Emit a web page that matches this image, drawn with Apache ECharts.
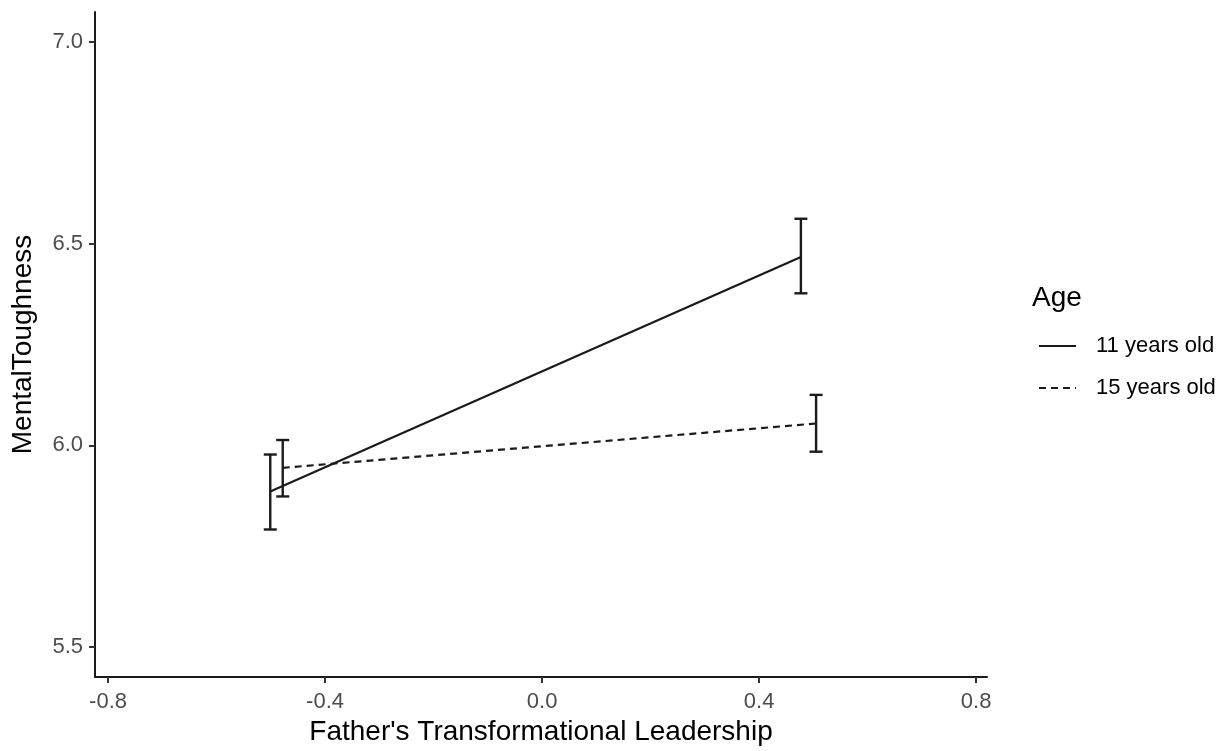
<!DOCTYPE html>
<html>
<head>
<meta charset="utf-8">
<script src="https://cdn.jsdelivr.net/npm/echarts@6/dist/echarts.min.js"></script>
<style>
html,body{margin:0;padding:0;background:#fff;}
#chart{width:1230px;height:751px;}
</style>
</head>
<body>
<div id="chart"></div>
<script>
// ---- data ----
const groups = ['11 years old', '15 years old'];
const x11 = [-0.501, 0.477];
const y11 = [5.885, 6.467];
const lo11 = [5.791, 6.377];
const hi11 = [5.977, 6.562];
const x15 = [-0.478, 0.505];
const y15 = [5.944, 6.054];
const lo15 = [5.873, 5.984];
const hi15 = [6.013, 6.125];
const xTicks = [-0.8, -0.4, 0.0, 0.4, 0.8];
const yTicks = [5.5, 6.0, 6.5, 7.0];
const xTitle = "Father's Transformational Leadership";
const yTitle = 'MentalToughness';
const legendTitle = 'Age';

const FONT = "'Liberation Sans', Arial, sans-serif";
const CAP = 0.012;

function pts(xs, ys) { return xs.map((x, i) => [x, ys[i]]); }
function bars(xs, lo, hi) { return xs.map((x, i) => [x, lo[i], hi[i]]); }

function errRender(params, api) {
  const x = api.value(0), lo = api.value(1), hi = api.value(2);
  const b = api.coord([x, lo]), t = api.coord([x, hi]);
  const bl = api.coord([x - CAP, lo]), br = api.coord([x + CAP, lo]);
  const tl = api.coord([x - CAP, hi]), tr = api.coord([x + CAP, hi]);
  const st = { stroke: '#1a1a1a', lineWidth: 2.4 };
  return {
    type: 'group',
    children: [
      { type: 'line', shape: { x1: b[0], y1: b[1], x2: t[0], y2: t[1] }, style: st },
      { type: 'line', shape: { x1: bl[0], y1: bl[1], x2: br[0], y2: br[1] }, style: st },
      { type: 'line', shape: { x1: tl[0], y1: tl[1], x2: tr[0], y2: tr[1] }, style: st }
    ]
  };
}

const chart = echarts.init(document.getElementById('chart'), null, { renderer: 'canvas' });
chart.setOption({
  backgroundColor: '#ffffff',
  animation: false,
  textStyle: { fontFamily: FONT },
  title: {
    text: legendTitle,
    left: 1032, top: 284, padding: 0,
    textStyle: { fontFamily: FONT, fontSize: 28, fontWeight: 'normal', color: '#000' }
  },
  legend: {
    data: groups,
    orient: 'vertical',
    left: 1038, top: 335,
    itemWidth: 37, itemHeight: 22, itemGap: 20,
    padding: 0,
    itemStyle: { opacity: 0 },
    textStyle: { fontFamily: FONT, fontSize: 22, color: '#000', padding: [0, 0, 0, 15] }
  },
  grid: { left: 95, top: 12, width: 892, height: 667, containLabel: false },
  xAxis: {
    type: 'value',
    min: -0.824, max: 0.82,
    name: xTitle, nameLocation: 'middle', nameGap: 41,
    nameTextStyle: { fontFamily: FONT, fontSize: 28, color: '#000' },
    axisLine: { show: true, onZero: false, lineStyle: { color: '#1a1a1a', width: 2 } },
    axisTick: { show: true, length: 6, customValues: xTicks, lineStyle: { color: '#333', width: 2 } },
    axisLabel: { customValues: xTicks, margin: 14, fontFamily: FONT, fontSize: 22, color: '#4d4d4d',
      formatter: v => v.toFixed(1) },
    splitLine: { show: false }
  },
  yAxis: {
    type: 'value',
    min: 5.425, max: 7.075,
    name: yTitle, nameLocation: 'middle', nameGap: 58,
    nameTextStyle: { fontFamily: FONT, fontSize: 28, color: '#000' },
    axisLine: { show: true, onZero: false, lineStyle: { color: '#1a1a1a', width: 2 } },
    axisTick: { show: true, length: 6, customValues: yTicks, lineStyle: { color: '#333', width: 2 } },
    axisLabel: { customValues: yTicks, margin: 12, fontFamily: FONT, fontSize: 22, color: '#4d4d4d',
      formatter: v => v.toFixed(1) },
    splitLine: { show: false }
  },
  series: [
    {
      name: groups[0], type: 'line', data: pts(x11, y11), symbol: 'none',
      lineStyle: { color: '#1a1a1a', width: 2.2, type: 'solid' }, itemStyle: { color: '#1a1a1a' }
    },
    {
      name: groups[1], type: 'line', data: pts(x15, y15), symbol: 'none',
      lineStyle: { color: '#1a1a1a', width: 2.2, type: [7, 5] }, itemStyle: { color: '#1a1a1a' }
    },
    {
      name: groups[0] + ' CI', type: 'custom', renderItem: errRender, data: bars(x11, lo11, hi11),
      encode: { x: 0, y: [1, 2] }, clip: false
    },
    {
      name: groups[1] + ' CI', type: 'custom', renderItem: errRender, data: bars(x15, lo15, hi15),
      encode: { x: 0, y: [1, 2] }, clip: false
    }
  ]
});
</script>
</body>
</html>
